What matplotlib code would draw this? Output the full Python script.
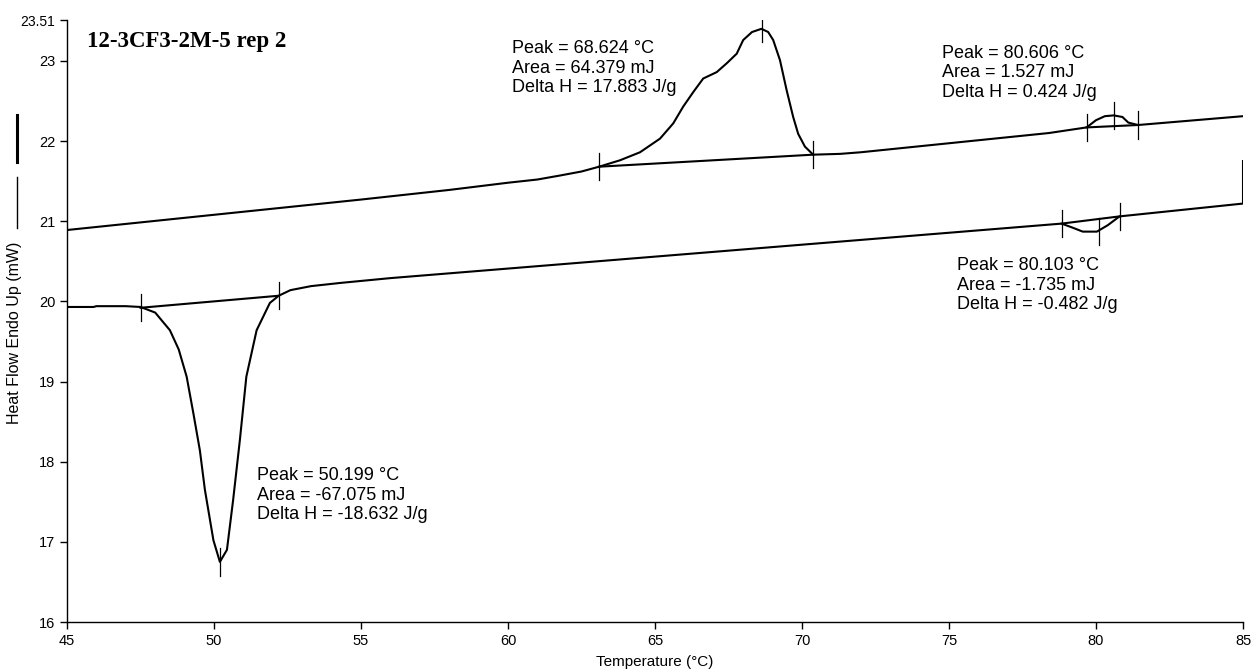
import numpy as np
import matplotlib
matplotlib.use("Agg")
import matplotlib.pyplot as plt
from matplotlib.lines import Line2D

plt.rcParams['font.family'] = ['Liberation Sans', 'DejaVu Sans']

# upper trace (heat flow vs temperature)
upper_T = [45.0, 50.0, 55.0, 58.0, 60.0, 61.0, 61.77, 62.5, 63.1, 63.81, 64.49, 65.17, 65.62,
           65.96, 66.30, 66.64, 67.10, 67.44, 67.78, 68.0, 68.3, 68.62, 68.85, 69.02, 69.25,
           69.48, 69.70, 69.87, 70.10, 70.38, 71.3, 72.0, 78.4, 79.68, 80.0, 80.3, 80.6, 80.9,
           81.1, 81.43, 85.0]
upper_Y = [20.89, 21.08, 21.27, 21.39, 21.48, 21.52, 21.57, 21.62, 21.68, 21.76, 21.86, 22.03, 22.22,
           22.43, 22.61, 22.78, 22.86, 22.97, 23.09, 23.26, 23.36, 23.40, 23.36, 23.26, 23.01,
           22.63, 22.30, 22.09, 21.93, 21.83, 21.84, 21.86, 22.10, 22.17, 22.26, 22.31, 22.32, 22.30,
           22.23, 22.20, 22.31]

# lower trace
lower_T = [45.0, 45.9, 46.0, 47.0, 47.5, 48.0, 48.5, 48.8, 49.07, 49.3, 49.52, 49.69, 49.98,
           50.2, 50.44, 50.65, 50.88, 51.1, 51.45, 51.9, 52.2, 52.6, 53.3, 54.3, 56.0, 78.83,
           79.2, 79.55, 80.03, 80.4, 80.8, 85.0, 85.0]
lower_Y = [19.93, 19.93, 19.94, 19.94, 19.93, 19.86, 19.64, 19.40, 19.06, 18.60, 18.14, 17.65, 17.02,
           16.75, 16.90, 17.52, 18.27, 19.06, 19.64, 19.98, 20.07, 20.14, 20.19, 20.23, 20.29, 20.97,
           20.92, 20.87, 20.87, 20.95, 21.06, 21.22, 21.75]

# integration baselines: (T1, Y1, T2, Y2)
baselines = [
    (47.5, 19.92, 52.2, 20.07),
    (63.1, 21.68, 70.38, 21.83),
    (79.68, 22.17, 81.43, 22.20),
    (78.83, 20.97, 80.8, 21.06),
]
# peak positions (T, Y)
peaks = [(50.199, 16.75), (68.624, 23.40), (80.606, 22.32), (80.103, 20.87)]

# annotation text: (T, Y, lines)
annotations = [
    (60.14, 22.91, ["Peak = 68.624 °C", "Area = 64.379 mJ", "Delta H = 17.883 J/g"]),
    (74.75, 22.85, ["Peak = 80.606 °C", "Area = 1.527 mJ", "Delta H = 0.424 J/g"]),
    (75.26, 20.20, ["Peak = 80.103 °C", "Area = -1.735 mJ", "Delta H = -0.482 J/g"]),
    (51.45, 17.58, ["Peak = 50.199 °C", "Area = -67.075 mJ", "Delta H = -18.632 J/g"]),
]

x_ticks = [45, 50, 55, 60, 65, 70, 75, 80, 85]
y_ticks = [16, 17, 18, 19, 20, 21, 22, 23, 23.51]
y_ticklabels = ["16", "17", "18", "19", "20", "21", "22", "23", "23.51"]

W, H = 1252, 672
fig = plt.figure(figsize=(W / 100, H / 100), dpi=100)
ax = fig.add_axes([67 / W, 1 - 622 / H, (1243 - 67) / W, (622 - 20) / H])

lw = 1.5
ax.plot(upper_T, upper_Y, color="black", lw=lw, solid_joinstyle="round")
ax.plot(lower_T, lower_Y, color="black", lw=lw, solid_joinstyle="round")

tick_h = 0.17
for t1, y1, t2, y2 in baselines:
    ax.plot([t1, t2], [y1, y2], color="black", lw=lw)
    ax.plot([t1, t1], [y1 - tick_h, y1 + tick_h], color="black", lw=0.9)
    ax.plot([t2, t2], [y2 - tick_h, y2 + tick_h], color="black", lw=0.9)
for t, y in peaks:
    ax.plot([t, t], [y - tick_h, y + tick_h], color="black", lw=0.9)

for t, y, lines in annotations:
    ax.text(t, y, "\n".join(lines), fontsize=13, linespacing=1.2,
            ha="left", va="center", color="black")

ax.text(45.68, 23.24, "12-3CF3-2M-5 rep 2", fontsize=16.5, fontweight="bold",
        family="Liberation Serif", ha="left", va="center")

ax.set_xlim(45, 85)
ax.set_ylim(16, 23.51)
ax.set_xticks(x_ticks)
ax.set_yticks(y_ticks)
ax.set_yticklabels(y_ticklabels)
ax.tick_params(labelsize=10.5, length=5, width=1.0, direction="out")
ax.get_yticklabels()[-1].set_fontsize(10)
for s in ["top", "right"]:
    ax.spines[s].set_visible(False)
for s in ["left", "bottom"]:
    ax.spines[s].set_linewidth(1.0)

fig.text(655 / W, 1 - 662 / H, "Temperature (°C)", fontsize=11, ha="center", va="center")
fig.text(15 / W, 1 - 333 / H, "Heat Flow Endo Up (mW)", fontsize=11.5, rotation=90,
         ha="center", va="center")
# line-style key next to the y label
fig.add_artist(Line2D([17 / W, 17 / W], [1 - 177 / H, 1 - 228 / H], color="black", lw=1.0))
fig.add_artist(Line2D([17 / W, 17 / W], [1 - 115 / H, 1 - 162 / H], color="black", lw=2.2))

fig.savefig("out.png", dpi=100)
